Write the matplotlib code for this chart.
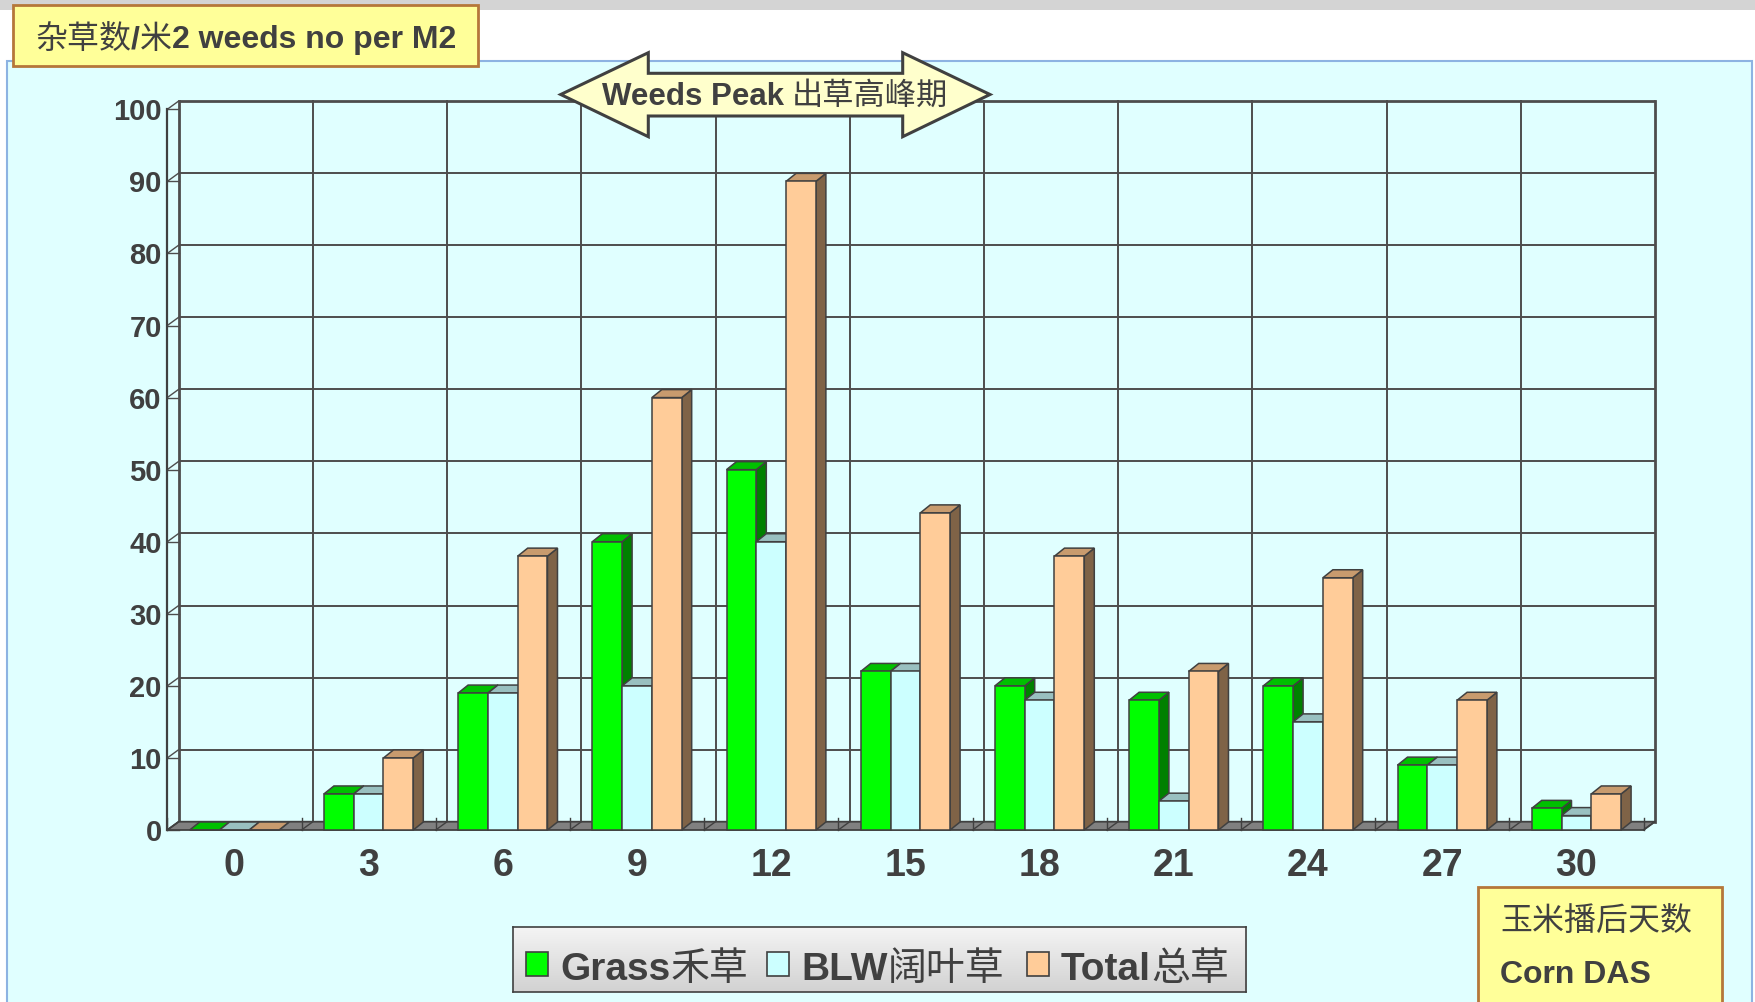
import numpy as np
import matplotlib
matplotlib.use("Agg")
import matplotlib.pyplot as plt
import matplotlib.transforms as mtransforms
from matplotlib.patches import Polygon, Rectangle
from matplotlib.colors import LinearSegmentedColormap

# ---- data -------------------------------------------------------------
days = ["0", "3", "6", "9", "12", "15", "18", "21", "24", "27", "30"]
grass = [0, 5, 19, 40, 50, 22, 20, 18, 20, 9, 3]
blw = [0, 5, 19, 20, 40, 22, 18, 4, 15, 9, 2]
total = [0, 10, 38, 60, 90, 44, 38, 22, 35, 18, 5]
series = [grass, blw, total]
series_names = [("Grass", "禾草"), ("BLW", "阔叶草"), ("Total", "总草")]
y_ticks = list(range(0, 101, 10))

# ---- style ------------------------------------------------------------
W, H = 1755, 1002
TXT = "#404040"
EDGE = "#404040"
GRID = "#4D4D4D"
LATIN = "Liberation Sans"
CJK = "Noto Sans CJK SC"
front_colors = ["#00FF00", "#CCFFFF", "#FFCC99"]
top_colors = ["#00C000", "#99C0C0", "#C89B6E"]
side_colors = ["#008000", "#8FBFBF", "#7F6347"]

fig = plt.figure(figsize=(W / 100, H / 100), dpi=100)
fig.patch.set_facecolor("white")

# pixel coordinates measured from the top-left corner
px = mtransforms.Affine2D().scale(1, -1).translate(0, H)


def add_px_patch(patch, z):
    patch.set_transform(px)
    patch.set_zorder(z)
    fig.add_artist(patch)


def rich_text(x, y, segments, size, ha="left", z=7):
    """Draw mixed bold-Latin / regular-CJK runs on one baseline."""
    renderer = fig.canvas.get_renderer()
    parts = []
    for text, kind in segments:
        if text is None:
            parts.append((None, kind))
            continue
        fam = [LATIN] if kind == "b" else [CJK]
        wt = "bold" if kind == "b" else "normal"
        t = fig.text(0, 0, text, fontsize=size, family=fam, fontweight=wt,
                     color=TXT, va="baseline", ha="left", transform=px,
                     zorder=z)
        parts.append((t, t.get_window_extent(renderer).width))
    width = sum(w for _, w in parts)
    x0 = x - width / 2 if ha == "center" else x
    for t, w in parts:
        if t is not None:
            t.set_position((x0, y))
        x0 += w


# ---- page background ---------------------------------------------------
add_px_patch(Rectangle((0, 0), W, 10, fc="#D4D4D4", ec="none"), -6)
add_px_patch(Rectangle((7.3, 60.7), 1744.7, 960, fc="#E0FFFF",
                       ec="#8DB3E2", lw=1.5), -5)

# ---- main 3-D style column chart --------------------------------------
ax = fig.add_axes([167.3 / W, (H - 830) / H, 1476.2 / W, 720.7 / H])
ax.set_xlim(-0.5, len(days) - 0.5)
ax.set_ylim(0, 100)
ax.patch.set_alpha(0)
for s in ax.spines.values():
    s.set_visible(False)

n = len(days)
DX, DY = 0.085, 1.15      # wall depth (category units, value units)
BDX, BDY = 0.0745, 1.11   # column depth
BW = 0.222                # column width

# floor
ax.add_patch(Polygon([(-0.5, 0), (n - 0.5, 0), (n - 0.5 + DX, DY),
                      (-0.5 + DX, DY)], closed=True, fc="#808080", ec=EDGE,
                     lw=1.3, clip_on=False, zorder=1))

# back wall and side wall grid
for yv in y_ticks:
    lw = 2.0 if yv == 100 else 1.4
    ax.plot([-0.5 + DX, n - 0.5 + DX], [yv + DY, yv + DY], color=GRID,
            lw=lw, clip_on=False, zorder=0.5, solid_capstyle="butt")
    ax.plot([-0.5, -0.5 + DX], [yv, yv + DY], color=GRID, lw=1.0,
            clip_on=False, zorder=0.5)
    ax.plot([-0.5, -0.5 + DX], [yv, yv], color=GRID, lw=1.0,
            clip_on=False, zorder=0.5)
for k in range(n + 1):
    lw = 2.0 if k in (0, n) else 1.4
    ax.plot([k - 0.5 + DX] * 2, [DY, 100 + DY], color=GRID, lw=lw,
            clip_on=False, zorder=0.5)
    ax.plot([k - 0.5, k - 0.5 + DX], [0, DY], color=EDGE, lw=1.0,
            clip_on=False, zorder=1.1)
    ax.plot([k - 0.5] * 2, [0, 1.7], color=EDGE, lw=1.0,
            clip_on=False, zorder=1.1)
ax.plot([-0.5, -0.5], [0, 100], color=EDGE, lw=1.6, clip_on=False,
        zorder=0.6)

# columns: side and top faces, then the front face from ax.bar
x = np.arange(n)
for j, vals in enumerate(series):
    offs = (j - 1) * BW
    zb = 2 + j * 0.1
    for i, v in enumerate(vals):
        xl = x[i] + offs - BW / 2
        xr = x[i] + offs + BW / 2
        ax.add_patch(Polygon([(xr, 0), (xr + BDX, BDY), (xr + BDX, v + BDY),
                              (xr, v)], closed=True, fc=side_colors[j],
                             ec=EDGE, lw=1.1, clip_on=False, zorder=zb))
        ax.add_patch(Polygon([(xl, v), (xr, v), (xr + BDX, v + BDY),
                              (xl + BDX, v + BDY)], closed=True,
                             fc=top_colors[j], ec=EDGE, lw=1.1,
                             clip_on=False, zorder=zb + 0.01))
    ax.bar(x + offs, vals, width=BW, color=front_colors[j], edgecolor=EDGE,
           linewidth=1.1, zorder=zb + 0.02, clip_on=False)

ax.set_yticks(y_ticks)
ax.set_yticklabels([str(t) for t in y_ticks], fontsize=21,
                   fontweight="bold", family=LATIN, color=TXT)
ax.tick_params(axis="y", length=0, pad=4)
ax.set_xticks(x)
ax.set_xticklabels(days, fontsize=27, fontweight="bold", family=LATIN,
                   color=TXT)
ax.tick_params(axis="x", length=0, pad=13)

# ---- title box ----------------------------------------------------------
add_px_patch(Rectangle((13.3, 5), 464.7, 61, fc="#FFFF99", ec="#B5773A",
                       lw=2.0), 5)
rich_text(245.7, 48.3, [("杂草数", "c"), ("/", "b"), ("米", "c"),
                        ("2 weeds no per M2", "b")], 23, ha="center")

# ---- double arrow callout ----------------------------------------------
arrow_pts = [(560.7, 94.5), (648.3, 52.7), (648.3, 73.3), (902.7, 73.3),
             (902.7, 52.7), (990.0, 94.5), (902.7, 136.7), (902.7, 116.0),
             (648.3, 116.0), (648.3, 136.7)]
add_px_patch(Polygon(arrow_pts, closed=True, fc="#FFFFCC", ec="#404040",
                     lw=2.2, joinstyle="miter"), 5)
rich_text(775, 105, [("Weeds Peak", "b"), (None, 8), ("出草高峰期", "c")],
          22.5, ha="center")

# ---- x-axis caption box -------------------------------------------------
add_px_patch(Rectangle((1478, 886.7), 244, 140, fc="#FFFF99", ec="#B5773A",
                       lw=2.0), 5)
rich_text(1500, 931, [("玉米播后天数", "c")], 23)
rich_text(1500, 983, [("Corn DAS", "b")], 23)

# ---- legend ------------------------------------------------------------
lax = fig.add_axes([513 / W, (H - 992) / H, (1246 - 513) / W, 65 / H],
                   zorder=3)
grad = LinearSegmentedColormap.from_list("legend_grad", ["#F4F4F4", "#D2D2D2"])
lax.imshow(np.linspace(0, 1, 64)[:, None], cmap=grad, aspect="auto",
           extent=[0, 1, 0, 1])
lax.set_xlim(0, 1)
lax.set_ylim(0, 1)
lax.set_xticks([])
lax.set_yticks([])
for s in lax.spines.values():
    s.set_color("#404040")
    s.set_linewidth(1.2)

square_x = [526, 767, 1027]
text_x = [560, 801, 1061]
for j, (latin, cjk) in enumerate(series_names):
    add_px_patch(Rectangle((square_x[j], 952), 22, 24, fc=front_colors[j],
                           ec="#404040", lw=1.2), 7)
    rich_text(text_x[j], 980, [(latin, "b"), (cjk, "c")], 28)

fig.savefig("out.png", dpi=100, facecolor=fig.get_facecolor())
